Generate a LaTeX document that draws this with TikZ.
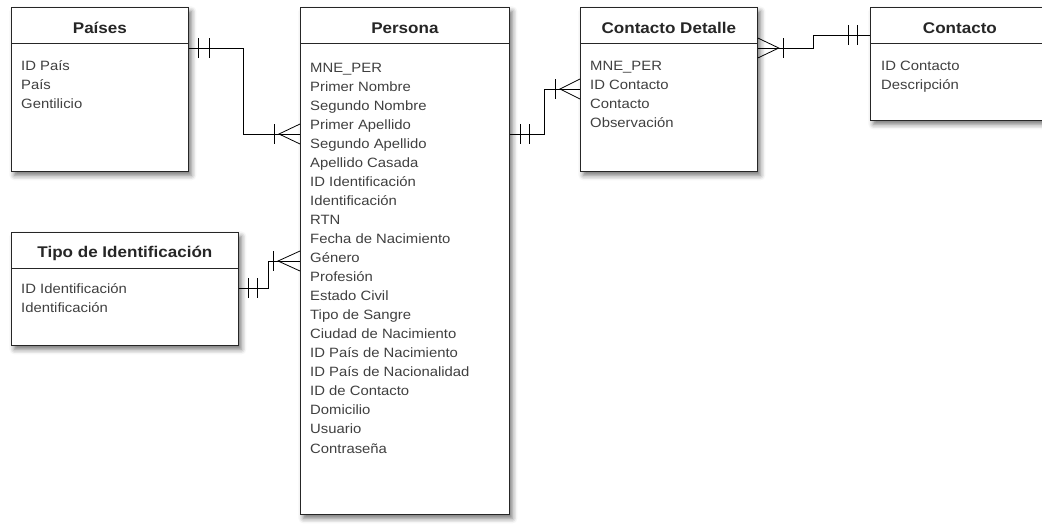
\documentclass[tikz,border=0pt]{standalone}
\usepackage{fontspec}
\setmainfont[FakeStretch=1.1]{Liberation Sans}
\usetikzlibrary{calc,shadows.blur}

\tikzset{
  tabla/.style={draw=black!85, fill=white, line width=0.8pt, anchor=north west, inner sep=0pt,
    blur shadow={shadow xshift=3pt, shadow yshift=-4pt, shadow blur radius=5pt, shadow opacity=55}},
  titulo/.style={anchor=base, inner sep=0pt, text=black!85, font=\bfseries\fontsize{15.5}{19}\selectfont},
  campo/.style={anchor=base west, inner sep=0pt, text=black!75, font=\fontsize{13.5}{19}\selectfont},
  rel/.style={draw=black, line width=0.8pt},
}

\begin{document}
\begin{tikzpicture}[x=1pt,y=-1pt]
  \useasboundingbox (0,0) rectangle (1042,523);

  % tablas
  \node[tabla, minimum width=177pt, minimum height=164pt] (paises) at (11,7) {};
  \node[tabla, minimum width=209pt, minimum height=507pt] (persona) at (300,7) {};
  \node[tabla, minimum width=177pt, minimum height=164pt] (detalle) at (580,7) {};
  \node[tabla, minimum width=179pt, minimum height=113pt] (contacto) at (870,7) {};
  \node[tabla, minimum width=227pt, minimum height=113pt] (tipo) at (11,232) {};
  \foreach \t in {paises,persona,detalle,contacto,tipo}
    \draw[line width=0.8pt, draw=black!85]
      ([yshift=-36pt]\t.north west) -- ([yshift=-36pt]\t.north east);

  \node[titulo] (t-paises) at ($(paises.north)+(0,26.5)$) {Países};
  \node[titulo] (t-persona) at ($(persona.north)+(0,26.5)$) {Persona};
  \node[titulo] (t-detalle) at ($(detalle.north)+(0,26.5)$) {Contacto Detalle};
  \node[titulo] (t-contacto) at ($(contacto.north)+(0,26.5)$) {Contacto};
  \node[titulo] (t-tipo) at ($(tipo.north)+(0,25.5)$) {Tipo de Identificación};

  % campos
  \foreach \c [count=\i from 0] in {ID País, País, Gentilicio}
    \node[campo] (pa-\i) at ($(paises.north west)+(10,63+19*\i)$) {\c};
  \foreach \c [count=\i from 0] in {MNE\_PER, Primer Nombre, Segundo Nombre,
      Primer Apellido, Segundo Apellido, Apellido Casada, ID Identificación,
      Identificación, RTN, Fecha de Nacimiento, Género, Profesión, Estado Civil,
      Tipo de Sangre, Ciudad de Nacimiento, ID País de Nacimiento,
      ID País de Nacionalidad, ID de Contacto, Domicilio, Usuario, Contraseña}
    \node[campo] (pe-\i) at ($(persona.north west)+(10,65+19.05*\i)$) {\c};
  \foreach \c [count=\i from 0] in {MNE\_PER, ID Contacto, Contacto, Observación}
    \node[campo] (de-\i) at ($(detalle.north west)+(10,63+19.2*\i)$) {\c};
  \foreach \c [count=\i from 0] in {ID Contacto, Descripción}
    \node[campo] (co-\i) at ($(contacto.north west)+(11,63+19*\i)$) {\c};
  \foreach \c [count=\i from 0] in {ID Identificación, Identificación}
    \node[campo] (ti-\i) at ($(tipo.north west)+(10,61+19*\i)$) {\c};

  % relaciones
  \coordinate (a1) at (paises.east |- 0,48);
  \coordinate (a2) at (persona.west |- 0,134);
  \draw[rel] (a1) -- ++(55,0) |- (a2);
  \foreach \dx in {10,21}
    \draw[rel] ($(a1)+(\dx,-10)$) -- ++(0,20);
  \draw[rel] ($(a2)+(0,-10)$) -- ($(a2)+(-21,0)$) -- ($(a2)+(0,10)$);
  \draw[rel] ($(a2)+(-26,-10)$) -- ++(0,20);

  \coordinate (b1) at (tipo.east |- 0,288);
  \coordinate (b2) at (persona.west |- 0,261);
  \draw[rel] (b1) -- ++(30,0) |- (b2);
  \foreach \dx in {10,19}
    \draw[rel] ($(b1)+(\dx,-10)$) -- ++(0,20);
  \draw[rel] ($(b2)+(0,-10)$) -- ($(b2)+(-22,0)$) -- ($(b2)+(0,10)$);
  \draw[rel] ($(b2)+(-27,-10)$) -- ++(0,20);

  \coordinate (c1) at (persona.east |- 0,134);
  \coordinate (c2) at (detalle.west |- 0,89);
  \draw[rel] (c1) -- ++(35,0) |- (c2);
  \foreach \dx in {11,20}
    \draw[rel] ($(c1)+(\dx,-10)$) -- ++(0,20);
  \draw[rel] ($(c2)+(0,-10)$) -- ($(c2)+(-20,0)$) -- ($(c2)+(0,10)$);
  \draw[rel] ($(c2)+(-25,-10)$) -- ++(0,20);

  \coordinate (d1) at (detalle.east |- 0,48);
  \coordinate (d2) at (contacto.west |- 0,35);
  \draw[rel] (d1) -- ++(56,0) |- (d2);
  \draw[rel] ($(d1)+(0,-10)$) -- ($(d1)+(21,0)$) -- ($(d1)+(0,10)$);
  \draw[rel] ($(d1)+(26,-10)$) -- ++(0,20);
  \foreach \dx in {-22,-13}
    \draw[rel] ($(d2)+(\dx,-10)$) -- ++(0,20);
\end{tikzpicture}
\end{document}
